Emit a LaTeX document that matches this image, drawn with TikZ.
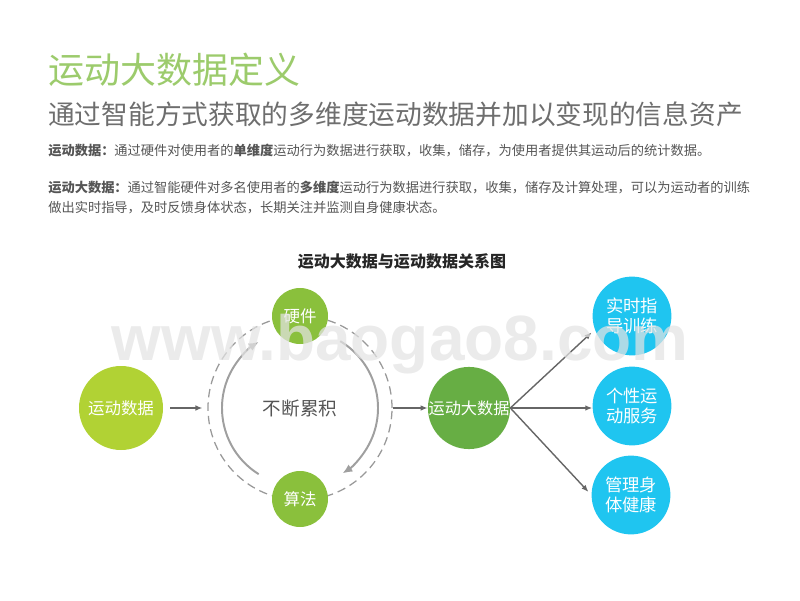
\documentclass[tikz,border=0pt]{standalone}
\usepackage{fontspec}
\setmainfont{Noto Sans CJK SC}
\newfontfamily\markfont{Liberation Sans}
\usetikzlibrary{positioning,arrows.meta}
\definecolor{titlegreen}{HTML}{9CCB6C}
\definecolor{subgray}{HTML}{6E6E6E}
\definecolor{bodygray}{HTML}{555555}
\definecolor{limegreen}{HTML}{B1D234}
\definecolor{leafgreen}{HTML}{8AC03C}
\definecolor{deepgreen}{HTML}{67AE44}
\definecolor{skyblue}{HTML}{1FC5F0}
\definecolor{linegray}{HTML}{666666}

\begin{document}
\begin{tikzpicture}[
    on grid,
    circ/.style={circle, inner sep=0pt, align=center, text=white},
    source/.style={circ, fill=limegreen, minimum size=2.1cm, font=\fontsize{11.7}{14}\selectfont},
    part/.style={circ, fill=leafgreen, minimum size=1.4cm, font=\fontsize{11.7}{14}\selectfont},
    result/.style={circ, fill=deepgreen, minimum size=1.95cm, font=\fontsize{11.5}{14}\selectfont},
    usecase/.style={circ, fill=skyblue, minimum size=1.97cm, font=\fontsize{12.3}{14.2}\selectfont},
    ringnode/.style={circle, draw=gray!80, dashed, dash pattern=on 6pt off 3.6pt, line width=0.9pt, minimum size=4.6cm, text=bodygray, font=\fontsize{13.2}{15}\selectfont},
    textline/.style={anchor=west, inner sep=0pt},
    body/.style={textline, text=bodygray, font=\fontsize{9.42}{12}\selectfont},
    flow/.style={-{Latex[length=5pt,width=4pt]}, draw=linegray, line width=1pt},
    turn/.style={-{Latex[length=7pt,width=6pt]}, draw=gray!75, line width=1.4pt}
]
\useasboundingbox (0,0) rectangle (20,15);

% Heading
\node[textline, text=titlegreen, font=\fontsize{25.6}{30}\selectfont] (title) at (1.2,13.25) {运动大数据定义};
\node[textline, text=subgray, font=\fontsize{19}{23}\selectfont] (subtitle) at (1.2,12.15) {通过智能方式获取的多维度运动数据并加以变现的信息资产};

% Definitions
\node[body] (def1) at (1.2,11.24) {\textbf{运动数据：}通过硬件对使用者的\textbf{单维度}运动行为数据进行获取，收集，储存，为使用者提供其运动后的统计数据。};
\node[body] (def2) at (1.2,10.32) {\textbf{运动大数据：}通过智能硬件对多名使用者的\textbf{多维度}运动行为数据进行获取，收集，储存及计算处理，可以为运动者的训练};
\node[body] (def3) at (1.2,9.82) {做出实时指导，及时反馈身体状态，长期关注并监测自身健康状态。};

% Chart title
\node[text=black!85, font=\fontsize{11.4}{14}\bfseries\selectfont] (charttitle) at (10.05,8.47) {运动大数据与运动数据关系图};

% Cycle
\node[source] (data) at (3.025,4.8) {运动数据};
\node[ringnode, right=4.475cm of data] (loop) {不断累积};
\node[part, above=2.3cm of loop] (hardware) {硬件};
\node[part, below=2.275cm of loop] (algo) {算法};

% Results
\node[result, right=4.225cm of loop] (big) {运动大数据};
\node[usecase, above right=2.3cm and 4.075cm of big] (train) {实时指\\导训练};
\node[usecase, right=4.075cm of big, yshift=0.05cm] (service) {个性运\\动服务};
\node[usecase, below right=2.175cm and 4.05cm of big] (health) {管理身\\体健康};

% Turning arrows
\path (loop.center) ++(238:1.95cm) coordinate (lefttail);
\path (loop.center) ++(59:1.95cm) coordinate (righttail);
\draw[turn] (lefttail) arc[start angle=238, end angle=122, radius=1.95cm];
\draw[turn] (righttail) arc[start angle=59, end angle=-57, radius=1.95cm];

% Connections
\draw[flow, shorten <=5pt, shorten >=3.5pt] (data) -- (loop.west);
\draw[flow] (loop.east) -- (big.west);
\draw[flow, shorten >=3pt] (big.east) -- (train.200);
\draw[flow] (big.east) -- (big.east -| service.west);
\draw[flow, shorten >=3pt] (big.east) -- (health.west);

% Site mark
\node[text=gray!22, opacity=0.72, font=\markfont\fontsize{45.5}{50}\bfseries\selectfont] (sitemark) at (10,6.4) {www.baogao8.com};
\end{tikzpicture}
\end{document}
